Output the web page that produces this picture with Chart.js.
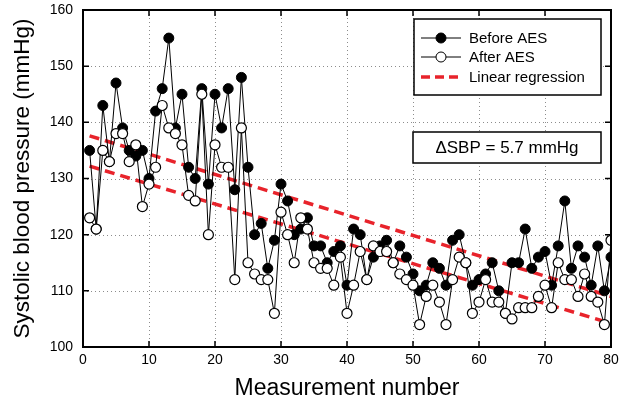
<!DOCTYPE html>
<html>
<head>
<meta charset="utf-8">
<script src="https://cdn.jsdelivr.net/npm/chart.js@4"></script>
<style>
  body { margin: 0; background: #fff; }
  canvas { display: block; }
</style>
</head>
<body>
<canvas id="myChart" width="631" height="410"></canvas>
<script>
// measurement numbers
const measurement = [1, 2, 3, 4, 5, 6, 7, 8, 9, 10,
  11, 12, 13, 14, 15, 16, 17, 18, 19, 20,
  21, 22, 23, 24, 25, 26, 27, 28, 29, 30,
  31, 32, 33, 34, 35, 36, 37, 38, 39, 40,
  41, 42, 43, 44, 45, 46, 47, 48, 49, 50,
  51, 52, 53, 54, 55, 56, 57, 58, 59, 60,
  61, 62, 63, 64, 65, 66, 67, 68, 69, 70,
  71, 72, 73, 74, 75, 76, 77, 78, 79, 80];

// systolic blood pressure (mmHg)
const beforeAES = [135, 121, 143, 133, 147, 139, 135, 134, 135, 130,
  142, 146, 155, 139, 145, 132, 130, 146, 129, 145,
  139, 146, 128, 148, 132, 120, 122, 114, 119, 129,
  126, 120, 121, 123, 118, 118, 115, 117, 118, 111,
  121, 120, 112, 116, 118, 119, 115, 118, 116, 113,
  110, 111, 115, 114, 111, 119, 120, 115, 111, 112,
  113, 115, 110, 106, 115, 115, 121, 114, 116, 117,
  111, 118, 126, 114, 118, 116, 111, 118, 110, 116];

const afterAES = [123, 121, 135, 133, 138, 138, 133, 136, 125, 129,
  132, 143, 139, 138, 136, 127, 126, 145, 120, 136,
  132, 132, 112, 139, 115, 113, 112, 112, 106, 124,
  120, 115, 123, 121, 115, 114, 114, 111, 116, 106,
  111, 117, 112, 118, 117, 117, 115, 113, 112, 111,
  104, 109, 111, 108, 104, 112, 116, 115, 106, 108,
  112, 108, 108, 106, 105, 107, 107, 107, 109, 111,
  107, 115, 112, 112, 109, 113, 109, 108, 104, 119];

// regression line end points
const regX = [1, 80];
const regBefore = [137.6, 109.0];
const regAfter = [132.2, 104.2];

const xTicks = [0, 10, 20, 30, 40, 50, 60, 70, 80];
const yTicks = [100, 110, 120, 130, 140, 150, 160];

const deltaText = "\u0394SBP = 5.7 mmHg";
const legendLabels = ["Before AES", "After AES", "Linear regression"];

const FONT = "'Liberation Sans', Arial, sans-serif";
const RED = "#e8232b";

function pts(xs, ys) {
  return xs.map((x, i) => ({ x: x, y: ys[i] }));
}

const framePlugin = {
  id: "frame",
  beforeDatasetsDraw(chart) {
    const ctx = chart.ctx;
    const a = chart.chartArea;
    const xs = chart.scales.x, ys = chart.scales.y;
    ctx.save();
    ctx.strokeStyle = "#8c8c8c";
    ctx.lineWidth = 1;
    ctx.setLineDash([1, 3]);
    ctx.beginPath();
    for (const t of xTicks.slice(1, -1)) {
      const px = Math.round(xs.getPixelForValue(t)) + 0.5;
      ctx.moveTo(px, a.top);
      ctx.lineTo(px, a.bottom);
    }
    for (const t of yTicks.slice(1, -1)) {
      const py = Math.round(ys.getPixelForValue(t)) + 0.5;
      ctx.moveTo(a.left, py);
      ctx.lineTo(a.right, py);
    }
    ctx.stroke();
    ctx.restore();
  },
  afterDatasetsDraw(chart) {
    const ctx = chart.ctx;
    const a = chart.chartArea;
    const xs = chart.scales.x, ys = chart.scales.y;
    ctx.save();
    // inward ticks
    ctx.strokeStyle = "#000";
    ctx.lineWidth = 1.5;
    ctx.beginPath();
    for (const t of xTicks) {
      const px = xs.getPixelForValue(t);
      ctx.moveTo(px, a.bottom);
      ctx.lineTo(px, a.bottom - 6);
      ctx.moveTo(px, a.top);
      ctx.lineTo(px, a.top + 6);
    }
    for (const t of yTicks) {
      const py = ys.getPixelForValue(t);
      ctx.moveTo(a.left, py);
      ctx.lineTo(a.left + 6, py);
      ctx.moveTo(a.right, py);
      ctx.lineTo(a.right - 6, py);
    }
    ctx.stroke();
    // frame
    ctx.lineWidth = 2;
    ctx.strokeRect(a.left, a.top, a.right - a.left, a.bottom - a.top);

    // legend box
    const lx = 414, ly = 19, lw = 187, lh = 76;
    ctx.fillStyle = "#fff";
    ctx.fillRect(lx, ly, lw, lh);
    ctx.lineWidth = 1.5;
    ctx.strokeRect(lx, ly, lw, lh);
    const rows = [38, 57, 77];
    ctx.font = "15px " + FONT;
    ctx.textBaseline = "middle";
    ctx.textAlign = "left";
    for (let i = 0; i < 3; i++) {
      const y = rows[i];
      ctx.beginPath();
      if (i < 2) {
        ctx.strokeStyle = "#000";
        ctx.lineWidth = 1;
        ctx.setLineDash([]);
        ctx.moveTo(421, y);
        ctx.lineTo(461, y);
        ctx.stroke();
        ctx.beginPath();
        ctx.arc(441, y, 5, 0, Math.PI * 2);
        ctx.fillStyle = i === 0 ? "#000" : "#fff";
        ctx.fill();
        ctx.stroke();
      } else {
        ctx.strokeStyle = RED;
        ctx.lineWidth = 3.5;
        ctx.setLineDash([9, 5]);
        ctx.moveTo(421, y);
        ctx.lineTo(463, y);
        ctx.stroke();
        ctx.setLineDash([]);
      }
      ctx.fillStyle = "#000";
      ctx.fillText(legendLabels[i], 469, y + 1);
    }

    // delta box
    const dx = 413, dy = 132, dw = 188, dh = 31;
    ctx.fillStyle = "#fff";
    ctx.fillRect(dx, dy, dw, dh);
    ctx.strokeStyle = "#000";
    ctx.lineWidth = 1.5;
    ctx.strokeRect(dx, dy, dw, dh);
    ctx.fillStyle = "#000";
    ctx.font = "17px " + FONT;
    ctx.textAlign = "center";
    ctx.fillText(deltaText, dx + dw / 2, dy + dh / 2 + 1);
    ctx.restore();
  }
};

const ctx = document.getElementById("myChart").getContext("2d");
const myChart = new Chart(ctx, {
  type: "line",
  data: {
    datasets: [
      {
        label: "After AES",
        data: pts(measurement, afterAES),
        borderColor: "#000",
        borderWidth: 1,
        pointRadius: 5,
        pointBorderWidth: 1.2,
        pointBackgroundColor: "#fff",
        pointBorderColor: "#000",
        order: 1
      },
      {
        label: "Before AES",
        data: pts(measurement, beforeAES),
        borderColor: "#000",
        borderWidth: 1,
        pointRadius: 5,
        pointBorderWidth: 1,
        pointBackgroundColor: "#000",
        pointBorderColor: "#000",
        order: 2
      },
      {
        label: "Regression before",
        data: pts(regX, regBefore),
        borderColor: RED,
        borderWidth: 3.5,
        borderDash: [10, 6],
        pointRadius: 0,
        order: 3
      },
      {
        label: "Regression after",
        data: pts(regX, regAfter),
        borderColor: RED,
        borderWidth: 3.5,
        borderDash: [10, 6],
        pointRadius: 0,
        order: 3
      }
    ]
  },
  options: {
    responsive: false,
    animation: false,
    devicePixelRatio: 1,
    layout: { padding: { left: 0, right: 20, top: 10, bottom: 0 } },
    plugins: {
      legend: { display: false },
      tooltip: { enabled: false }
    },
    scales: {
      x: {
        type: "linear",
        min: 0,
        max: 80,
        grid: { display: false, drawTicks: false, tickLength: 0 },
        border: { display: false },
        ticks: {
          stepSize: 10,
          color: "#000",
          font: { family: FONT, size: 14 },
          padding: 5,
          maxRotation: 0
        },
        title: {
          display: true,
          text: "Measurement number",
          color: "#000",
          font: { family: FONT, size: 23 },
          padding: { top: 8, bottom: 8 }
        },
        afterFit(scale) {
          scale.height = 63;
          scale.paddingLeft = 0;
          scale.paddingRight = 0;
        }
      },
      y: {
        min: 100,
        max: 160,
        grid: { display: false, drawTicks: false, tickLength: 0 },
        border: { display: false },
        ticks: {
          stepSize: 10,
          color: "#000",
          font: { family: FONT, size: 14 },
          padding: 10
        },
        title: {
          display: true,
          text: "Systolic blood pressure (mmHg)",
          color: "#000",
          font: { family: FONT, size: 22.5 },
          padding: { top: 9, bottom: 4 }
        },
        afterFit(scale) {
          scale.width = 83;
          scale.paddingTop = 0;
          scale.paddingBottom = 0;
        }
      }
    }
  },
  plugins: [framePlugin]
});
</script>
</body>
</html>
